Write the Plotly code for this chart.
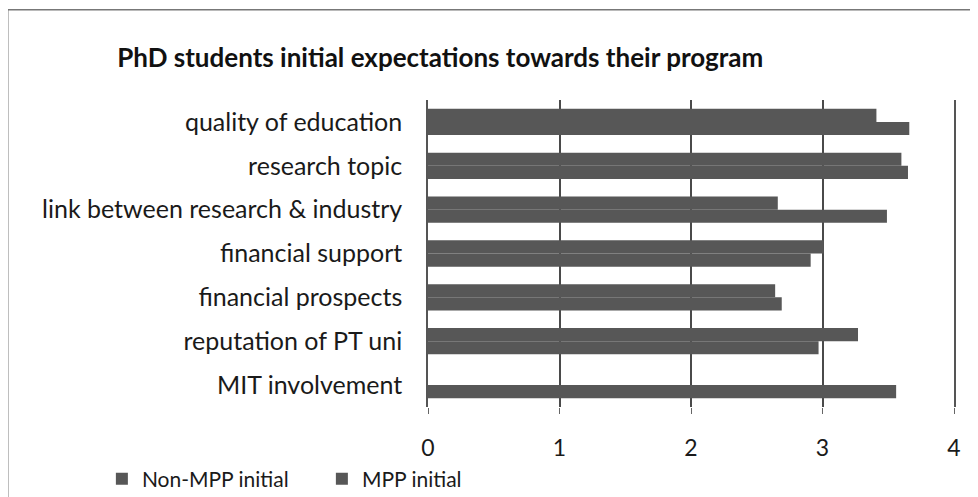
import plotly.graph_objects as go

# Data
categories = [
    "quality of education",
    "research topic",
    "link between research & industry",
    "financial support",
    "financial prospects",
    "reputation of PT uni",
    "MIT involvement",
]
non_mpp_initial = [3.41, 3.60, 2.66, 3.01, 2.64, 3.27, None]
mpp_initial = [3.66, 3.65, 3.49, 2.91, 2.69, 2.97, 3.56]
x_ticks = [0, 1, 2, 3, 4]

FONT = "Lato"
BAR = "#575757"

fig = go.Figure()
fig.add_trace(go.Bar(
    y=categories, x=non_mpp_initial, orientation="h",
    name="Non-MPP initial", marker=dict(color=BAR, line=dict(width=0)),
))
fig.add_trace(go.Bar(
    y=categories, x=mpp_initial, orientation="h",
    name="MPP initial", marker=dict(color=BAR, line=dict(width=0)),
))

fig.update_layout(
    width=978, height=497,
    margin=dict(l=420, r=32, t=92, b=98, autoexpand=False),
    paper_bgcolor="white", plot_bgcolor="white",
    font=dict(family=FONT, size=25, color="#1a1a1a"),
    title=dict(
        text="<b>PhD students initial expectations towards their program</b>",
        x=0.442, xanchor="center", y=0.899, yanchor="middle",
        font=dict(family=FONT, size=26, color="#111111"),
    ),
    barmode="group", bargap=0.4, bargroupgap=0,
    showlegend=True,
    legend=dict(
        orientation="h", x=-0.62, xanchor="left", y=-0.2345, yanchor="middle",
        entrywidth=175, entrywidthmode="pixels",
        font=dict(family=FONT, size=21, color="#1a1a1a"),
        itemwidth=30, bgcolor="rgba(0,0,0,0)",
    ),
    xaxis=dict(
        range=[0, 4], tickvals=x_ticks, showgrid=True,
        gridcolor="#4a4a4a", gridwidth=1.5, zeroline=False,
        ticks="outside", ticklen=6, tickcolor="#666666",
        ticklabelstandoff=14, tickfont=dict(size=23),
        showline=False,
    ),
    yaxis=dict(
        autorange="reversed", showgrid=False,
        showline=True, linecolor="#555555", linewidth=1.5, mirror=True,
        ticks="", ticklabelstandoff=19,
    ),
)

# outer chart border (top and left edges)
fig.add_shape(type="line", xref="paper", yref="paper",
              x0=-0.799, x1=1.1, y0=1.294, y1=1.294,
              line=dict(color="#777777", width=1.5))
fig.add_shape(type="line", xref="paper", yref="paper",
              x0=-0.799, x1=-0.799, y0=1.294, y1=-0.35,
              line=dict(color="#777777", width=1.5))

fig.write_html("out.html")
